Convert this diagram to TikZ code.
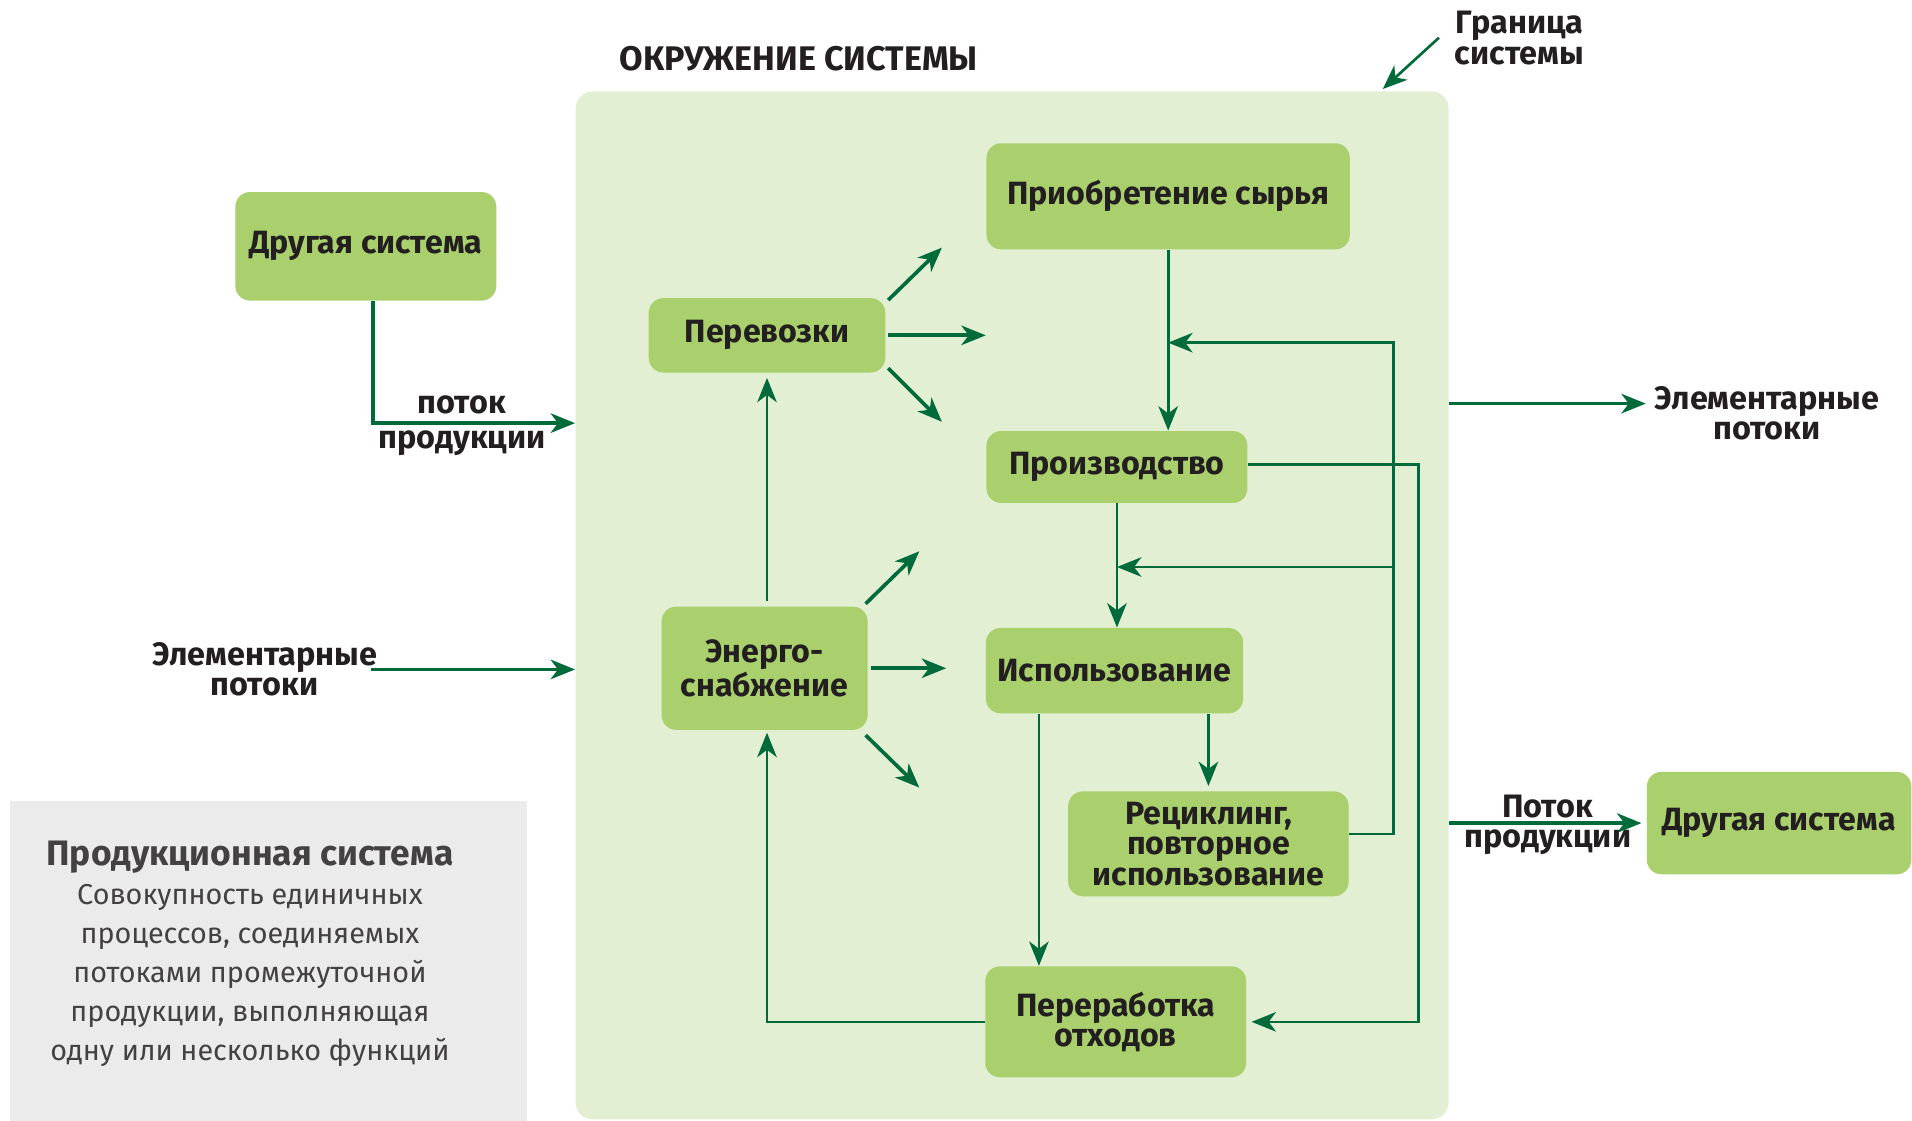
\documentclass[tikz,border=0pt]{standalone}
\usepackage{fontspec}
\setmainfont{Fira Sans}
\usetikzlibrary{arrows.meta,positioning,calc}
\definecolor{envgreen}{HTML}{E2EFD3}
\definecolor{boxgreen}{HTML}{A9D06D}
\definecolor{arrgreen}{HTML}{006B3A}
\definecolor{notegray}{HTML}{EBEBEB}
\definecolor{txt}{HTML}{231F20}
\tikzset{
  box/.style={fill=boxgreen, rounded corners=6pt, align=center, text=txt, inner sep=2pt,
              font=\bfseries\fontsize{13.2}{12.5}\selectfont},
  envbox/.style={fill=envgreen, rounded corners=7pt, minimum width=358pt, minimum height=421.5pt},
  notebox/.style={fill=notegray, minimum width=212pt, minimum height=131pt},
  arr/.style={-{Stealth[length=10pt,width=8pt,inset=3pt]}, draw=arrgreen, line width=1.1pt},
  bigarr/.style={arr, line width=1.5pt},
  lab/.style={font=\bfseries\fontsize{13.3}{12.5}\selectfont, align=center, text=txt},
  notetext/.style={font=\fontsize{11.8}{16}\selectfont, align=center, text=txt!85},
}
\begin{document}
\begin{tikzpicture}[x=0.5pt, y=-0.5pt]
        \useasboundingbox (0,0) rectangle (1568,919);
        \node[envbox] (env) at (830,496.5) {};
        \node[notebox] (note) at (220,788) {};
        \node[notetext] (notetxt) at (205,782) {{\bfseries\fontsize{14.5}{16}\selectfont Продукционная система}\\Совокупность единичных\\процессов, соединяемых\\потоками промежуточной\\продукции, выполняющая\\одну или несколько функций};
        \node[lab, font=\bfseries\fontsize{14}{14}\selectfont] (envtitle) at (655,48) {ОКРУЖЕНИЕ СИСТЕМЫ};
        \node[lab] (bound) at (1246,31) {Граница\\системы};
        \coordinate (bcorner) at (1134,73);
        \node[box, minimum width=107pt, minimum height=44.5pt] (other1) at (300,202) {Другая система};
        \node[box, minimum width=97pt, minimum height=30.5pt] (trans) at (629,275) {Перевозки};
        \node[box, minimum width=149pt, minimum height=43.5pt] (raw) at (958,161) {Приобретение сырья};
        \node[box, minimum width=107pt, minimum height=29.5pt] (prod) at (916,383) {Производство};
        \node[box, minimum width=84.5pt, minimum height=50.5pt] (energy) at (627,548) {Энерго-\\снабжение};
        \node[box, minimum width=105.5pt, minimum height=35pt] (use) at (914,550) {Использование};
        \node[box, minimum width=115pt, minimum height=43pt] (recyc) at (991,692) {Рециклинг,\\повторное\\использование};
        \node[box, minimum width=107pt, minimum height=45.5pt] (waste) at (915,838) {Переработка\\отходов};
        \node[box, minimum width=108.5pt, minimum height=42pt] (other2) at (1459,675) {Другая система};
        \node[lab] (elemin) at (217,549) {Элементарные\\потоки};
        \node[lab] (elemout) at (1449,339) {Элементарные\\потоки};
        \coordinate (fbtop) at (1143,281);
        \coordinate (fbmid) at (1143,465);
        \coordinate (rtline) at (1163,0);
        \coordinate (uw) at (852,0);
        \draw[arr] ([xshift=-3pt]bound.west) -- (bcorner);
        \draw[bigarr] ([xshift=3pt]other1.south) |- node[lab, pos=0.72, above=3pt, inner sep=0pt]{поток} node[lab, pos=0.72, below=2.5pt, inner sep=0pt]{продукции} (env.west |- 0,347);
        \draw[bigarr] ([xshift=-6pt]elemin.east) -- (env.west |- elemin.east);
        \draw[bigarr] (env.east |- 0,331) -- (elemout.west |- 0,331);
        \draw[bigarr, shorten >=2pt] (env.east |- other2.west) -- node[lab, above=1.5pt, inner sep=0pt]{Поток} node[lab, below=2pt, inner sep=0pt]{продукции} (other2.west);
        \draw[bigarr] ([shift={(1pt,-1pt)}]trans.north east) -- ++(22pt,21.5pt);
        \draw[bigarr] ([xshift=1pt]trans.east) -- ++(40pt,0);
        \draw[bigarr] ([shift={(1pt,2pt)}]trans.south east) -- ++(22pt,-22pt);
        \draw[bigarr] ([shift={(-1pt,1pt)}]energy.north east) -- ++(22pt,21.5pt);
        \draw[bigarr] ([xshift=1pt]energy.east) -- ++(31pt,0);
        \draw[bigarr] ([shift={(-1pt,-2pt)}]energy.south east) -- ++(22pt,-21.5pt);
        \draw[arr, shorten <=2pt, shorten >=2pt] (trans.south |- energy.north) -- (trans.south);
        \draw[arr, shorten >=1pt] (waste.west) -| (trans.south |- energy.south);
        \draw[arr] (raw.south) -- (raw.south |- prod.north);
        \draw[arr] ([yshift=4pt]recyc.east) -| (fbtop) -- (raw.south |- fbtop);
        \draw[arr] (fbmid) -- (prod.south |- fbmid);
        \draw[arr] (prod.south) -- (prod.south |- use.north);
        \draw[arr, shorten >=2pt] ([yshift=1pt]prod.east) -| (rtline |- waste.east) -- (waste.east);
        \draw[arr, shorten >=2pt] (recyc.north |- use.south) -- (recyc.north);
        \draw[arr] (uw |- use.south) -- (uw |- waste.north);
      \end{tikzpicture}
\end{document}
